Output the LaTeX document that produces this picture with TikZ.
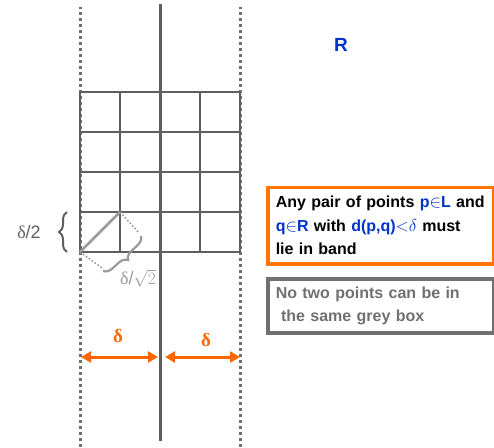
\documentclass[tikz,border=0pt]{standalone}
\usepackage{fontspec}
\setmainfont{Liberation Sans}
\newfontfamily\grk{Liberation Serif}
\usetikzlibrary{decorations.pathreplacing,arrows.meta}
\definecolor{bandorange}{HTML}{FF6600}
\definecolor{pointblue}{HTML}{0033CC}
\definecolor{gridgrey}{HTML}{5F5F5F}
\definecolor{boxgrey}{HTML}{707070}
\definecolor{lightgrey}{HTML}{9A9A9A}
\begin{document}
\begin{tikzpicture}[x=1pt, y=1pt]
    \tikzstyle{band}=[gridgrey!90, line width=3pt, dash pattern=on 3pt off 3pt]
    \tikzstyle{gridline}=[gridgrey, line width=2.6pt]
    \tikzstyle{span}=[bandorange, line width=3pt, {Triangle[length=10pt,width=11pt]}-{Triangle[length=10pt,width=11pt]}]
    \tikzstyle{note}=[anchor=north west, line width=3.5pt, text width=210pt, inner xsep=8pt, inner ysep=8pt, align=left, font=\bfseries\fontsize{16}{23.5}\selectfont]
    \useasboundingbox (0,0) rectangle (494,447);
    % the band and the dividing line
    \draw [band] (80,0) -- (80,440);
    \draw [band] (240,0) -- (240,440);
    \draw [gridline, line width=3pt] (160,6) -- (160,443);
    % grey boxes of side delta/2
    \foreach \x in {80,120,...,240} \draw [gridline] (\x,195) -- (\x,355);
    \foreach \y in {195,235,...,355} \draw [gridline] (80,\y) -- (240,\y);
    % diagonal of one box
    \draw [lightgrey, line width=2.6pt] (80,195) -- (120,235);
    \draw [lightgrey, line width=1.6pt, dotted] (120,235) -- (139,214);
    \draw [lightgrey, line width=1.6pt, dotted] (80,195) -- (102,179);
    \draw [lightgrey, line width=2.2pt, decorate, decoration={brace, amplitude=9pt}] (141,211) -- (103,176);
    \node [lightgrey, font=\fontsize{18}{18}\selectfont] (diag) at (138,169) {{\grk δ}/$\sqrt{2}$};
    \draw [gridgrey, line width=2pt, decorate, decoration={brace, amplitude=8pt}] (67,195) -- (67,235);
    \node [gridgrey, font=\fontsize{18}{18}\selectfont] (half) at (29,215) {{\grk δ}/2};
    % widths of the band
    \coordinate (l1) at (81,90);
    \coordinate (l2) at (158,90);
    \coordinate (r1) at (165,90);
    \coordinate (r2) at (240,90);
    \draw [span] (l1) -- (l2);
    \draw [span] (r1) -- (r2);
    \node [bandorange, font=\bfseries\fontsize{19}{19}\selectfont] (dl) at (118,111) {\grk δ};
    \node [bandorange, font=\bfseries\fontsize{19}{19}\selectfont] (dr) at (206,107) {\grk δ};
    \node [pointblue, font=\bfseries\fontsize{19}{19}\selectfont] (R) at (341,402) {R};
    % remarks
    \node [note, draw=bandorange!90!yellow, minimum height=76pt] (pair) at (266,261) {Any pair of points \textcolor{pointblue}{p$\in$L} and\\\textcolor{pointblue}{q$\in$R} with \textcolor{pointblue}{d(p,q)$\mathord{<}\delta$} must\\lie in band};
    \node [note, draw=boxgrey, text=boxgrey, minimum height=54pt] (grey) at (266,170) {No two points can be in\\\ the same grey box};
\end{tikzpicture}
\end{document}
